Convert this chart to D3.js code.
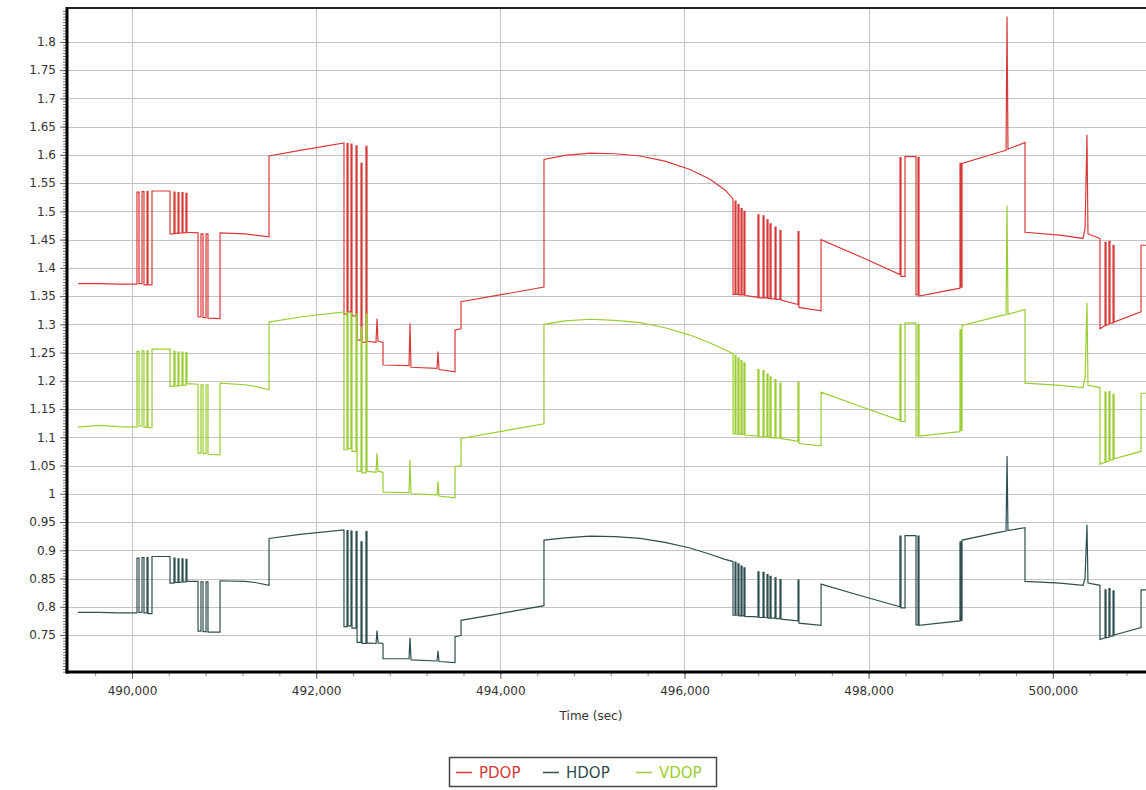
<!DOCTYPE html>
<html>
<head>
<meta charset="utf-8">
<script src="https://cdn.jsdelivr.net/npm/d3@7"></script>
<style>
  body { margin: 0; background: #fff; }
  svg { display: block; font-family: "DejaVu Sans", Verdana, sans-serif; }
</style>
</head>
<body>
<svg id="chart" width="1146" height="790"></svg>
<script>
// Zeitpunkte (sec) – gemeinsam für alle drei Reihen, doppelte Zeiten = senkrechte Sprünge
const zeiten = [
  489414, 489652, 489848, 490054, 490054,
  490076, 490076, 490109, 490109, 490130,
  490130, 490163, 490163, 490174, 490174,
  490217, 490217, 490413, 490413, 490456,
  490456, 490467, 490467, 490500, 490500,
  490510, 490510, 490543, 490543, 490554,
  490554, 490586, 490586, 490597, 490597,
  490717, 490717, 490749, 490749, 490771,
  490771, 490804, 490804, 490825, 490825,
  490956, 490956, 491227, 491336, 491488,
  491488, 491824, 492302, 492302, 492335,
  492335, 492346, 492346, 492378, 492378,
  492389, 492389, 492433, 492433, 492444,
  492444, 492487, 492487, 492498, 492498,
  492541, 492541, 492552, 492552, 492650,
  492661, 492672, 492726, 492726, 493008,
  493019, 493030, 493312, 493323, 493334,
  493508, 493508, 493573, 493573, 493996,
  494474, 494474, 494702, 494974, 495245,
  495517, 495788, 496060, 496277, 496440,
  496527, 496527, 496549, 496549, 496559,
  496559, 496581, 496581, 496592, 496592,
  496614, 496614, 496625, 496625, 496646,
  496646, 496657, 496657, 496798, 496798,
  496809, 496809, 496853, 496853, 496864,
  496864, 496896, 496896, 496907, 496907,
  496929, 496929, 496940, 496940, 496983,
  496983, 496994, 496994, 497037, 497037,
  497048, 497048, 497233, 497233, 497243,
  497243, 497483, 497483, 497906, 498340,
  498340, 498351, 498351, 498395, 498395,
  498514, 498514, 498536, 498536, 498547,
  498547, 498992, 498992, 499003, 499003,
  499014, 499014, 499426, 499492, 499503,
  499513, 499698, 499698, 500078, 500328,
  500350, 500371, 500382, 500512, 500512,
  500567, 500567, 500578, 500578, 500610,
  500610, 500621, 500621, 500654, 500654,
  500665, 500665, 500958, 500958, 501055
];

const pdop = [
  1.372, 1.372, 1.371, 1.371, 1.534,
  1.534, 1.372, 1.372, 1.535, 1.535,
  1.370, 1.370, 1.535, 1.535, 1.370,
  1.370, 1.536, 1.536, 1.460, 1.460,
  1.534, 1.534, 1.461, 1.461, 1.533,
  1.533, 1.461, 1.462, 1.533, 1.533,
  1.462, 1.462, 1.532, 1.532, 1.463,
  1.462, 1.313, 1.313, 1.460, 1.460,
  1.312, 1.312, 1.460, 1.460, 1.311,
  1.310, 1.462, 1.460, 1.458, 1.455,
  1.598, 1.608, 1.621, 1.318, 1.318,
  1.620, 1.620, 1.322, 1.322, 1.619,
  1.619, 1.315, 1.315, 1.616, 1.616,
  1.272, 1.272, 1.585, 1.585, 1.268,
  1.268, 1.615, 1.615, 1.270, 1.268,
  1.310, 1.270, 1.268, 1.228, 1.227,
  1.302, 1.224, 1.222, 1.252, 1.220,
  1.216, 1.290, 1.292, 1.340, 1.352,
  1.366, 1.592, 1.599, 1.603, 1.602,
  1.598, 1.589, 1.574, 1.557, 1.538,
  1.522, 1.353, 1.353, 1.518, 1.518,
  1.353, 1.353, 1.512, 1.512, 1.352,
  1.352, 1.505, 1.505, 1.352, 1.352,
  1.500, 1.500, 1.351, 1.348, 1.494,
  1.494, 1.347, 1.347, 1.492, 1.492,
  1.347, 1.347, 1.485, 1.485, 1.346,
  1.346, 1.478, 1.478, 1.345, 1.345,
  1.472, 1.472, 1.344, 1.344, 1.466,
  1.466, 1.343, 1.335, 1.464, 1.464,
  1.330, 1.324, 1.450, 1.420, 1.388,
  1.595, 1.595, 1.385, 1.385, 1.597,
  1.597, 1.352, 1.352, 1.595, 1.595,
  1.350, 1.364, 1.585, 1.585, 1.366,
  1.366, 1.585, 1.605, 1.608, 1.845,
  1.610, 1.622, 1.463, 1.458, 1.452,
  1.470, 1.635, 1.460, 1.452, 1.292,
  1.298, 1.445, 1.445, 1.298, 1.300,
  1.447, 1.447, 1.302, 1.302, 1.440,
  1.440, 1.304, 1.322, 1.440, 1.440
];

const hdop = [
  0.790, 0.790, 0.789, 0.789, 0.886,
  0.886, 0.790, 0.790, 0.887, 0.887,
  0.789, 0.789, 0.887, 0.887, 0.788,
  0.788, 0.889, 0.889, 0.842, 0.842,
  0.886, 0.886, 0.843, 0.843, 0.885,
  0.885, 0.843, 0.844, 0.885, 0.885,
  0.844, 0.844, 0.884, 0.884, 0.845,
  0.845, 0.757, 0.757, 0.844, 0.844,
  0.756, 0.756, 0.844, 0.844, 0.755,
  0.755, 0.846, 0.845, 0.843, 0.838,
  0.921, 0.928, 0.936, 0.765, 0.765,
  0.935, 0.935, 0.766, 0.766, 0.934,
  0.934, 0.762, 0.762, 0.933, 0.933,
  0.737, 0.737, 0.915, 0.915, 0.735,
  0.735, 0.933, 0.933, 0.736, 0.735,
  0.758, 0.736, 0.735, 0.708, 0.708,
  0.745, 0.706, 0.704, 0.722, 0.703,
  0.701, 0.747, 0.749, 0.776, 0.788,
  0.802, 0.918, 0.922, 0.925, 0.924,
  0.921, 0.914, 0.904, 0.893, 0.884,
  0.880, 0.785, 0.785, 0.879, 0.879,
  0.785, 0.785, 0.876, 0.876, 0.784,
  0.784, 0.872, 0.872, 0.784, 0.784,
  0.869, 0.869, 0.783, 0.782, 0.862,
  0.862, 0.781, 0.781, 0.861, 0.861,
  0.781, 0.781, 0.857, 0.857, 0.780,
  0.780, 0.854, 0.854, 0.780, 0.780,
  0.851, 0.851, 0.779, 0.779, 0.848,
  0.848, 0.778, 0.775, 0.847, 0.847,
  0.771, 0.767, 0.840, 0.820, 0.800,
  0.925, 0.925, 0.798, 0.798, 0.926,
  0.926, 0.768, 0.768, 0.925, 0.925,
  0.767, 0.775, 0.915, 0.915, 0.776,
  0.776, 0.918, 0.932, 0.934, 1.067,
  0.935, 0.940, 0.845, 0.842, 0.838,
  0.850, 0.945, 0.842, 0.838, 0.742,
  0.745, 0.830, 0.830, 0.745, 0.746,
  0.832, 0.832, 0.748, 0.748, 0.828,
  0.828, 0.750, 0.763, 0.830, 0.830
];

const vdop = [
  1.118, 1.121, 1.119, 1.118, 1.252,
  1.252, 1.120, 1.120, 1.253, 1.253,
  1.118, 1.118, 1.253, 1.253, 1.117,
  1.117, 1.256, 1.256, 1.190, 1.190,
  1.252, 1.252, 1.191, 1.191, 1.251,
  1.251, 1.191, 1.192, 1.251, 1.251,
  1.192, 1.192, 1.250, 1.250, 1.195,
  1.194, 1.072, 1.072, 1.193, 1.193,
  1.071, 1.071, 1.193, 1.193, 1.070,
  1.069, 1.196, 1.193, 1.190, 1.184,
  1.304, 1.313, 1.322, 1.078, 1.078,
  1.321, 1.321, 1.080, 1.080, 1.320,
  1.320, 1.075, 1.075, 1.318, 1.318,
  1.040, 1.040, 1.295, 1.295, 1.037,
  1.037, 1.318, 1.318, 1.040, 1.038,
  1.072, 1.040, 1.038, 1.003, 1.002,
  1.060, 1.000, 0.998, 1.022, 0.996,
  0.993, 1.048, 1.050, 1.098, 1.110,
  1.124, 1.300, 1.306, 1.309, 1.307,
  1.303, 1.294, 1.281, 1.267, 1.255,
  1.248, 1.106, 1.106, 1.245, 1.245,
  1.106, 1.106, 1.240, 1.240, 1.105,
  1.105, 1.236, 1.236, 1.105, 1.105,
  1.232, 1.232, 1.104, 1.102, 1.220,
  1.220, 1.101, 1.101, 1.218, 1.218,
  1.101, 1.101, 1.212, 1.212, 1.100,
  1.100, 1.207, 1.207, 1.099, 1.099,
  1.202, 1.202, 1.099, 1.099, 1.196,
  1.196, 1.098, 1.093, 1.197, 1.197,
  1.089, 1.085, 1.180, 1.155, 1.130,
  1.300, 1.300, 1.128, 1.128, 1.302,
  1.302, 1.103, 1.103, 1.300, 1.300,
  1.102, 1.110, 1.290, 1.290, 1.112,
  1.112, 1.298, 1.315, 1.317, 1.510,
  1.318, 1.326, 1.196, 1.192, 1.188,
  1.205, 1.338, 1.192, 1.188, 1.052,
  1.056, 1.180, 1.180, 1.056, 1.058,
  1.181, 1.181, 1.060, 1.060, 1.176,
  1.176, 1.062, 1.075, 1.178, 1.178
];

const reihenNamen = ["PDOP", "HDOP", "VDOP"];
const xTicks = [490000, 492000, 494000, 496000, 498000, 500000];
const yTicks = [0.75, 0.8, 0.85, 0.9, 0.95, 1, 1.05, 1.1, 1.15, 1.2, 1.25,
  1.3, 1.35, 1.4, 1.45, 1.5, 1.55, 1.6, 1.65, 1.7, 1.75, 1.8];

// Farben pro Reihe
const farben = { PDOP: "#d83a3a", HDOP: "#2f4f4f", VDOP: "#9acd32" };

const breite = 1146;
const rand = { links: 67, oben: 8, unten: 672 };

const svg = d3.select("#chart");

const x = d3.scaleLinear().domain([489294, 501012]).range([rand.links, breite]);
const y = d3.scaleLinear().domain([0.6845, 1.86]).range([rand.unten, rand.oben]);

// Clip für den Plotbereich
svg.append("clipPath").attr("id", "plot")
  .append("rect")
  .attr("x", rand.links).attr("y", rand.oben)
  .attr("width", breite - rand.links).attr("height", rand.unten - rand.oben);

// Gitterlinien
const gitter = svg.append("g").attr("stroke", "#c4c4c4").attr("stroke-width", 1);
gitter.selectAll("line.h").data(yTicks).join("line")
  .attr("class", "h")
  .attr("x1", rand.links).attr("x2", breite)
  .attr("y1", (d) => Math.round(y(d)) + 0.5).attr("y2", (d) => Math.round(y(d)) + 0.5);
gitter.selectAll("line.v").data(xTicks).join("line")
  .attr("class", "v")
  .attr("y1", rand.oben).attr("y2", rand.unten)
  .attr("x1", (d) => Math.round(x(d)) + 0.5).attr("x2", (d) => Math.round(x(d)) + 0.5);

// Linien zeichnen
const reihen = reihenNamen.map((name, i) => ({
  name,
  werte: [pdop, hdop, vdop][i].map((v, j) => [zeiten[j], v]),
}));

const linie = d3.line().x((d) => x(d[0])).y((d) => y(d[1]));

svg.append("g").attr("clip-path", "url(#plot)")
  .selectAll("path").data(reihen).join("path")
  .attr("d", (d) => linie(d.werte))
  .attr("fill", "none")
  .attr("stroke", (d) => farben[d.name])
  .attr("stroke-width", 1.2);

// Y-Achse mit Nebenstrichen
const yMinor = d3.range(0.685, 1.86, 0.005);
svg.append("g").attr("transform", `translate(${rand.links - 1},0)`)
  .call(d3.axisLeft(y).tickValues(yMinor).tickSize(3).tickFormat(""))
  .call((g) => g.select(".domain").remove())
  .call((g) => g.selectAll("line").attr("stroke", "#777"));

svg.append("g").attr("transform", `translate(${rand.links - 1},0)`)
  .call(d3.axisLeft(y).tickValues(yTicks).tickSize(6).tickPadding(4).tickFormat(d3.format("~g")))
  .call((g) => g.select(".domain").remove())
  .call((g) => g.selectAll("line").attr("stroke", "#666"))
  .call((g) => g.selectAll("text").attr("fill", "#333").style("font-size", "12px")
    .style("font-family", '"DejaVu Sans", Verdana, sans-serif'));

// X-Achse
const xMinor = d3.range(489600, 501012, 400);
svg.append("g").attr("transform", `translate(0,${rand.unten + 1})`)
  .call(d3.axisBottom(x).tickValues(xMinor).tickSize(3).tickFormat(""))
  .call((g) => g.select(".domain").remove())
  .call((g) => g.selectAll("line").attr("stroke", "#888"));

svg.append("g").attr("transform", `translate(0,${rand.unten + 1})`)
  .call(d3.axisBottom(x).tickValues(xTicks).tickSize(6).tickPadding(7).tickFormat(d3.format(",")))
  .call((g) => g.select(".domain").remove())
  .call((g) => g.selectAll("line").attr("stroke", "#666"))
  .call((g) => g.selectAll("text").attr("fill", "#333").style("font-size", "12px")
    .style("font-family", '"DejaVu Sans", Verdana, sans-serif'));

// Rahmen: dicke Achsenlinien links/unten, dünne oben
svg.append("line")
  .attr("x1", rand.links).attr("x2", rand.links)
  .attr("y1", rand.oben - 1).attr("y2", rand.unten + 1.5)
  .attr("stroke", "#000").attr("stroke-width", 3);
svg.append("line")
  .attr("x1", rand.links - 1.5).attr("x2", breite)
  .attr("y1", rand.unten).attr("y2", rand.unten)
  .attr("stroke", "#000").attr("stroke-width", 3);
svg.append("line")
  .attr("x1", rand.links).attr("x2", breite)
  .attr("y1", rand.oben).attr("y2", rand.oben)
  .attr("stroke", "#222").attr("stroke-width", 2);

// Achsentitel
svg.append("text")
  .attr("x", 591).attr("y", 720)
  .attr("text-anchor", "middle")
  .attr("fill", "#333")
  .style("font-size", "12px")
  .text("Time (sec)");

// Legende
const legende = svg.append("g");
legende.append("rect")
  .attr("x", 449.5).attr("y", 757.5).attr("width", 267).attr("height", 29)
  .attr("fill", "#fff").attr("stroke", "#444").attr("stroke-width", 1.5);

const legX = [456, 543, 636];
reihenNamen.forEach((name, i) => {
  legende.append("line")
    .attr("x1", legX[i]).attr("x2", legX[i] + 16)
    .attr("y1", 772.5).attr("y2", 772.5)
    .attr("stroke", farben[name]).attr("stroke-width", 1.5);
  legende.append("text")
    .attr("x", legX[i] + 23).attr("y", 778)
    .attr("fill", farben[name])
    .style("font-size", "15px")
    .text(name);
});
</script>
</body>
</html>
